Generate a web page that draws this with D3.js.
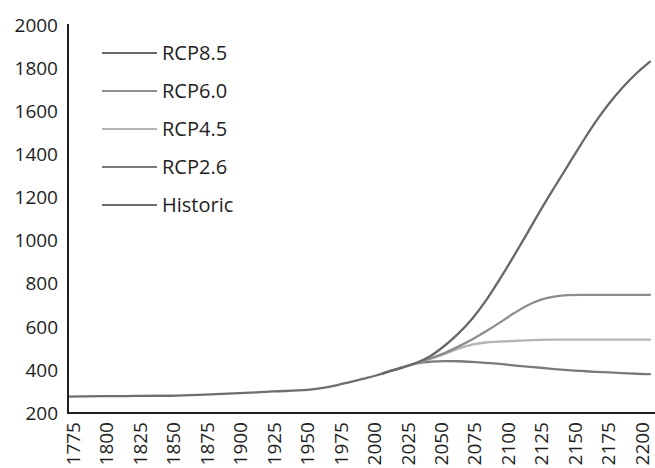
<!DOCTYPE html>
<html>
<head>
<meta charset="utf-8">
<script src="https://cdn.jsdelivr.net/npm/d3@7"></script>
<style>
  html, body { margin: 0; padding: 0; background: #fff; }
  svg { display: block; }
  text { font-family: "Open Sans", "DejaVu Sans", sans-serif; fill: #1e1e1e; font-weight: 500; }
</style>
</head>
<body>
<svg id="chart" width="655" height="468"></svg>
<script>
// ---- data ----
const histYears = [1775, 1800, 1825, 1850, 1875, 1900, 1925, 1950, 1960, 1970, 1980, 1990, 2000, 2005];
const historic  = [276, 278, 279, 280, 285, 292, 300, 307, 315, 327, 342, 358, 374, 384];

const scenYears = [2005, 2010, 2020, 2030, 2040, 2050, 2060, 2070, 2080, 2090, 2100,
                   2110, 2120, 2130, 2140, 2150, 2160, 2170, 2180, 2190, 2200];
const rcp85 = [384, 394, 413, 434, 466, 512, 568, 636, 720, 818, 922,
               1030, 1140, 1245, 1348, 1450, 1548, 1635, 1710, 1775, 1830];
const rcp60 = [384, 394, 413, 433, 454, 478, 508, 541, 578, 618, 660,
               698, 725, 740, 747, 748, 748, 748, 748, 748, 748];
const rcp45 = [384, 394, 413, 433, 452, 474, 498, 517, 527, 531, 534,
               537, 539, 540, 540, 540, 540, 540, 540, 540, 540];
const rcp26 = [384, 394, 413, 430, 438, 441, 440, 437, 433, 428, 421,
               415, 410, 404, 399, 395, 391, 388, 385, 382, 380];

const seriesNames = ["RCP8.5", "RCP6.0", "RCP4.5", "RCP2.6", "Historic"];
const yTicks = [200, 400, 600, 800, 1000, 1200, 1400, 1600, 1800, 2000];
const xTickLabels = ["1775", "1800", "1825", "1850", "1875", "1900", "1925", "1950", "1975",
                     "2000", "2025", "2050", "2075", "2100", "2125", "2150", "2175", "2200"];

// ---- styles ----
const colors = {
  "RCP8.5": "#686868",
  "RCP6.0": "#8d8d8d",
  "RCP4.5": "#b4b4b4",
  "RCP2.6": "#7a7a7a",
  "Historic": "#6e6e6e"
};

const svg = d3.select("#chart");

const x = d3.scaleLinear().domain([1775, 2200]).range([68, 650]);
const y = d3.scaleLinear().domain([200, 2000]).range([413, 25]);
const xLab = d3.scalePoint().domain(xTickLabels).range([73, 642]);

// y tick labels
svg.append("g").selectAll("text").data(yTicks).enter().append("text")
  .attr("x", 58)
  .attr("y", d => y(d) + 6.8)
  .attr("text-anchor", "end")
  .style("font-size", "19px")
  .text(d => d);

// x tick labels (rotated)
svg.append("g").selectAll("text").data(xTickLabels).enter().append("text")
  .attr("transform", d => `translate(${xLab(d) + 6.8},422) rotate(-90)`)
  .attr("text-anchor", "end")
  .style("font-size", "19px")
  .text(d => d);

// lines
const line = d3.line().x(d => x(d[0])).y(d => y(d[1])).curve(d3.curveMonotoneX);
const seriesData = {
  "RCP8.5": scenYears.map((yr, i) => [yr, rcp85[i]]),
  "RCP6.0": scenYears.map((yr, i) => [yr, rcp60[i]]),
  "RCP4.5": scenYears.map((yr, i) => [yr, rcp45[i]]),
  "RCP2.6": scenYears.map((yr, i) => [yr, rcp26[i]]),
  "Historic": histYears.map((yr, i) => [yr, historic[i]])
};
const drawOrder = ["RCP2.6", "RCP4.5", "RCP6.0", "RCP8.5", "Historic"];
svg.append("g").selectAll("path").data(drawOrder).enter().append("path")
  .attr("d", n => line(seriesData[n]))
  .attr("fill", "none")
  .attr("stroke", n => colors[n])
  .attr("stroke-width", 2.3)
  .attr("stroke-linejoin", "round")
  .attr("stroke-linecap", "round");

// axes lines
svg.append("line").attr("x1", 68).attr("x2", 68).attr("y1", 24).attr("y2", 414)
  .attr("stroke", "#1e1e1e").attr("stroke-width", 2);
svg.append("line").attr("x1", 67).attr("x2", 655).attr("y1", 413).attr("y2", 413)
  .attr("stroke", "#1e1e1e").attr("stroke-width", 2);

// legend
const leg = svg.append("g").selectAll("g").data(seriesNames).enter().append("g")
  .attr("transform", (d, i) => `translate(0,${53 + i * 38})`);
leg.append("line").attr("x1", 102).attr("x2", 157).attr("y1", 0).attr("y2", 0)
  .attr("stroke", d => colors[d]).attr("stroke-width", 2.2);
leg.append("text").attr("x", 162).attr("y", 7.4)
  .style("font-size", "20px")
  .text(d => d);
</script>
</body>
</html>
